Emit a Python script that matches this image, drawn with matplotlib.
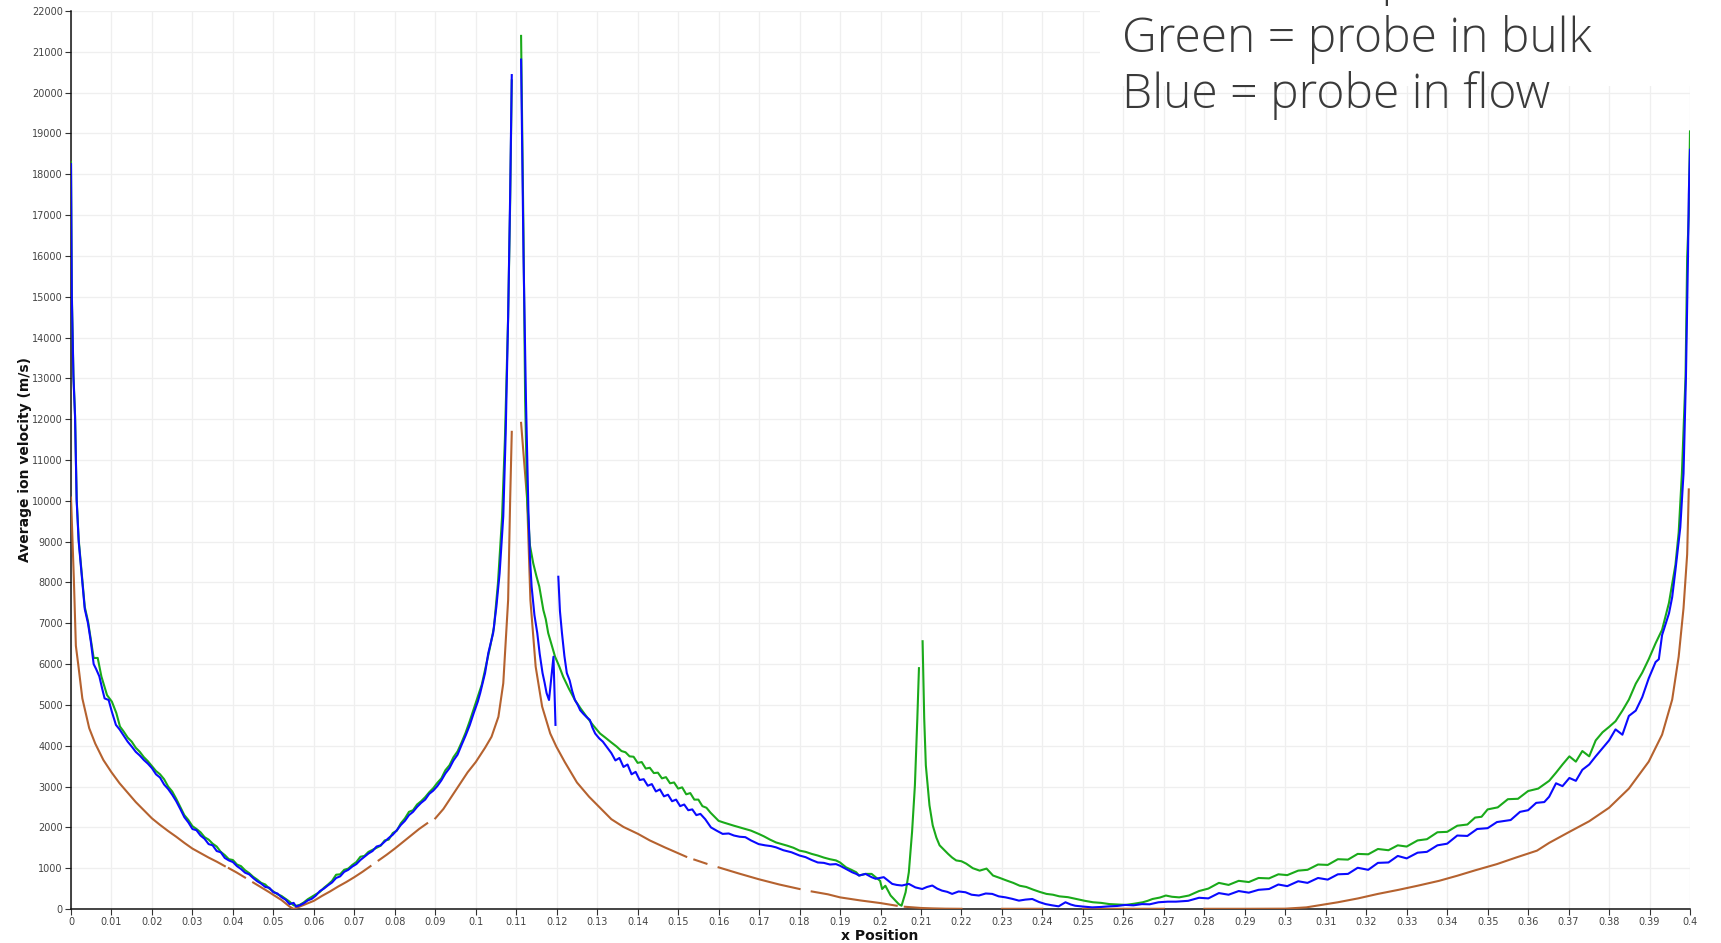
import numpy as np
import matplotlib
matplotlib.use("Agg")
import matplotlib.pyplot as plt
from matplotlib.patches import Rectangle

nan = np.nan

# probe in flow (blue)
blue_x = [0.0000, 0.0002, 0.0006, 0.0010, 0.0014, 0.0019, 0.0028, 0.0034, 0.0042, 0.0049,
          0.0056, 0.0062, 0.0070, 0.0077, 0.0083, 0.0093, 0.0101, 0.0111, 0.0120, 0.0130,
          0.0140, 0.0150, 0.0160, 0.0170, 0.0180, 0.0190, 0.0200, 0.0210, 0.0220, 0.0230,
          0.0240, 0.0250, 0.0260, 0.0270, 0.0280, 0.0290, 0.0300, 0.0310, 0.0320, 0.0330,
          0.0340, 0.0350, 0.0360, 0.0370, 0.0380, 0.0390, 0.0400, 0.0410, 0.0420, 0.0430,
          0.0440, 0.0450, 0.0460, 0.0470, 0.0480, 0.0490, 0.0500, 0.0510, 0.0520, 0.0530,
          0.0540, 0.0550, 0.0556, 0.0565, 0.0575, 0.0585, 0.0595, 0.0605, 0.0615, 0.0625,
          0.0635, 0.0645, 0.0655, 0.0665, 0.0675, 0.0685, 0.0695, 0.0705, 0.0715, 0.0725,
          0.0735, 0.0745, 0.0755, 0.0765, 0.0775, 0.0785, 0.0795, 0.0805, 0.0815, 0.0825,
          0.0835, 0.0845, 0.0855, 0.0865, 0.0875, 0.0885, 0.0895, 0.0905, 0.0915, 0.0925,
          0.0935, 0.0945, 0.0955, 0.0965, 0.0975, 0.0985, 0.0995, 0.1005, 0.1011, 0.1023,
          0.1031, 0.1043, 0.1051, 0.1059, 0.1068, 0.1074, 0.1080, 0.1085, 0.1089, 0.1100,
          0.1112, 0.1118, 0.1124, 0.1130, 0.1134, 0.1138, 0.1145, 0.1152, 0.1158, 0.1165,
          0.1170, 0.1175, 0.1181, 0.1187, 0.1192, 0.1197, 0.1200, 0.1204, 0.1208, 0.1213,
          0.1219, 0.1225, 0.1232, 0.1238, 0.1245, 0.1252, 0.1258, 0.1266, 0.1274, 0.1282,
          0.1288, 0.1295, 0.1305, 0.1314, 0.1323, 0.1335, 0.1345, 0.1355, 0.1365, 0.1375,
          0.1385, 0.1395, 0.1405, 0.1415, 0.1425, 0.1435, 0.1445, 0.1455, 0.1465, 0.1475,
          0.1485, 0.1495, 0.1505, 0.1515, 0.1525, 0.1535, 0.1545, 0.1555, 0.1567, 0.1581,
          0.1595, 0.1610, 0.1625, 0.1638, 0.1652, 0.1666, 0.1680, 0.1699, 0.1715, 0.1730,
          0.1742, 0.1760, 0.1780, 0.1800, 0.1815, 0.1830, 0.1845, 0.1860, 0.1875, 0.1890,
          0.1900, 0.1915, 0.1930, 0.1940, 0.1947, 0.1963, 0.1978, 0.1988, 0.2008, 0.2018,
          0.2029, 0.2040, 0.2053, 0.2070, 0.2086, 0.2103, 0.2115, 0.2128, 0.2140, 0.2152,
          0.2165, 0.2177, 0.2193, 0.2210, 0.2225, 0.2243, 0.2260, 0.2276, 0.2292, 0.2309,
          0.2325, 0.2342, 0.2358, 0.2375, 0.2392, 0.2408, 0.2424, 0.2440, 0.2457, 0.2470,
          0.2481, 0.2500, 0.2523, 0.2545, 0.2564, 0.2585, 0.2605, 0.2625, 0.2646, 0.2665,
          0.2687, 0.2710, 0.2730, 0.2760, 0.2787, 0.2810, 0.2836, 0.2860, 0.2885, 0.2910,
          0.2934, 0.2960, 0.2983, 0.3005, 0.3032, 0.3055, 0.3081, 0.3105, 0.3130, 0.3155,
          0.3179, 0.3205, 0.3229, 0.3255, 0.3278, 0.3300, 0.3327, 0.3350, 0.3376, 0.3400,
          0.3425, 0.3450, 0.3474, 0.3500, 0.3523, 0.3557, 0.3580, 0.3600, 0.3620, 0.3640,
          0.3652, 0.3669, 0.3685, 0.3702, 0.3718, 0.3734, 0.3751, 0.3767, 0.3784, 0.3800,
          0.3816, 0.3833, 0.3849, 0.3866, 0.3882, 0.3898, 0.3915, 0.3923, 0.3931, 0.3948,
          0.3956, 0.3964, 0.3976, 0.3984, 0.3990, 0.3995, 0.3997, 0.4000]
blue_v = [18250, 15000, 13040, 12060, 10000, 9000, 8000, 7350, 7000, 6550,
          6000, 5880, 5700, 5400, 5160, 5120, 4830, 4510, 4400, 4250,
          4100, 3980, 3850, 3760, 3650, 3560, 3450, 3300, 3220, 3050,
          2940, 2800, 2640, 2450, 2250, 2120, 1960, 1930, 1800, 1720,
          1590, 1560, 1420, 1390, 1250, 1190, 1150, 1050, 980, 890,
          850, 760, 680, 620, 540, 520, 410, 380, 290, 230,
          120, 150, 60, 90, 140, 210, 250, 330, 440, 500,
          580, 650, 760, 800, 910, 960, 1040, 1100, 1200, 1280,
          1360, 1420, 1530, 1560, 1650, 1740, 1820, 1930, 2060, 2160,
          2300, 2380, 2500, 2600, 2680, 2820, 2900, 3010, 3150, 3320,
          3450, 3640, 3780, 4020, 4250, 4500, 4800, 5080, 5290, 5780,
          6270, 6760, 7410, 8230, 9620, 11660, 14500, 17500, 20430, nan,
          20810, 16000, 12500, 9800, 8600, 7900, 7200, 6760, 6250, 5780,
          5550, 5290, 5120, 5700, 6180, 4510, nan, 8140, 7300, 6760,
          6200, 5780, 5600, 5350, 5120, 5000, 4870, 4780, 4700, 4630,
          4450, 4300, 4180, 4100, 3980, 3820, 3640, 3700, 3480, 3540,
          3300, 3360, 3160, 3180, 3020, 3060, 2880, 2930, 2760, 2800,
          2640, 2680, 2520, 2560, 2420, 2440, 2300, 2330, 2200, 2000,
          1920, 1840, 1850, 1800, 1770, 1760, 1680, 1590, 1560, 1540,
          1510, 1440, 1390, 1310, 1270, 1200, 1140, 1130, 1090, 1100,
          1060, 980, 900, 860, 820, 860, 780, 740, 780, 700,
          615, 590, 575, 615, 530, 490, 540, 575, 500, 450,
          420, 370, 430, 410, 350, 330, 380, 370, 310, 285,
          250, 205, 230, 245, 170, 120, 90, 65, 165, 110,
          80, 60, 40, 50, 65, 75, 100, 90, 120, 115,
          165, 180, 180, 200, 275, 260, 390, 350, 440, 400,
          470, 490, 600, 560, 680, 640, 760, 720, 850, 860,
          1010, 960, 1130, 1140, 1300, 1240, 1380, 1400, 1560, 1600,
          1800, 1790, 1960, 1980, 2130, 2180, 2380, 2420, 2600, 2620,
          2750, 3080, 3010, 3210, 3140, 3410, 3540, 3740, 3940, 4130,
          4400, 4270, 4730, 4860, 5190, 5650, 6050, 6120, 6710, 7240,
          7640, 8300, 9350, 10670, 13050, 15960, 17500, 18600]

# probe in bulk (green)
green_x = [0.0000, 0.0002, 0.0006, 0.0010, 0.0014, 0.0019, 0.0028, 0.0034, 0.0042, 0.0049,
           0.0056, 0.0066, 0.0075, 0.0089, 0.0101, 0.0112, 0.0121, 0.0130, 0.0140, 0.0150,
           0.0160, 0.0170, 0.0180, 0.0190, 0.0200, 0.0210, 0.0220, 0.0230, 0.0240, 0.0250,
           0.0260, 0.0270, 0.0280, 0.0290, 0.0300, 0.0310, 0.0320, 0.0330, 0.0340, 0.0350,
           0.0360, 0.0370, 0.0380, 0.0390, 0.0400, 0.0410, 0.0420, 0.0430, 0.0440, 0.0450,
           0.0460, 0.0470, 0.0480, 0.0490, 0.0500, 0.0510, 0.0520, 0.0530, 0.0540, 0.0550,
           0.0556, 0.0565, 0.0575, 0.0585, 0.0595, 0.0605, 0.0615, 0.0625, 0.0635, 0.0645,
           0.0655, 0.0665, 0.0675, 0.0685, 0.0695, 0.0705, 0.0715, 0.0725, 0.0735, 0.0745,
           0.0755, 0.0765, 0.0775, 0.0785, 0.0795, 0.0805, 0.0815, 0.0825, 0.0835, 0.0845,
           0.0855, 0.0865, 0.0875, 0.0885, 0.0895, 0.0905, 0.0915, 0.0925, 0.0935, 0.0945,
           0.0955, 0.0965, 0.0975, 0.0985, 0.0995, 0.1005, 0.1015, 0.1025, 0.1035, 0.1045,
           0.1055, 0.1065, 0.1072, 0.1080, 0.1085, 0.1089, 0.1100, 0.1112, 0.1118, 0.1122,
           0.1127, 0.1134, 0.1142, 0.1150, 0.1157, 0.1167, 0.1173, 0.1179, 0.1188, 0.1196,
           0.1206, 0.1216, 0.1230, 0.1245, 0.1260, 0.1274, 0.1290, 0.1307, 0.1320, 0.1335,
           0.1348, 0.1360, 0.1370, 0.1380, 0.1390, 0.1400, 0.1410, 0.1420, 0.1430, 0.1440,
           0.1450, 0.1460, 0.1470, 0.1480, 0.1490, 0.1500, 0.1510, 0.1520, 0.1530, 0.1540,
           0.1550, 0.1560, 0.1570, 0.1580, 0.1590, 0.1600, 0.1612, 0.1625, 0.1638, 0.1652,
           0.1666, 0.1680, 0.1699, 0.1712, 0.1727, 0.1742, 0.1756, 0.1770, 0.1785, 0.1800,
           0.1815, 0.1830, 0.1845, 0.1860, 0.1875, 0.1890, 0.1900, 0.1915, 0.1928, 0.1940,
           0.1947, 0.1963, 0.1978, 0.1988, 0.1999, 0.2004, 0.2012, 0.2025, 0.2037, 0.2045,
           0.2052, 0.2062, 0.2070, 0.2078, 0.2085, 0.2091, 0.2095, 0.2100, 0.2104, 0.2108,
           0.2112, 0.2121, 0.2129, 0.2138, 0.2146, 0.2157, 0.2167, 0.2177, 0.2187, 0.2200,
           0.2212, 0.2228, 0.2245, 0.2262, 0.2278, 0.2295, 0.2311, 0.2328, 0.2344, 0.2360,
           0.2377, 0.2393, 0.2410, 0.2426, 0.2442, 0.2463, 0.2484, 0.2505, 0.2525, 0.2545,
           0.2566, 0.2586, 0.2606, 0.2627, 0.2648, 0.2660, 0.2672, 0.2690, 0.2705, 0.2720,
           0.2738, 0.2762, 0.2787, 0.2810, 0.2836, 0.2860, 0.2885, 0.2910, 0.2934, 0.2960,
           0.2983, 0.3005, 0.3032, 0.3055, 0.3081, 0.3105, 0.3130, 0.3155, 0.3179, 0.3205,
           0.3229, 0.3255, 0.3278, 0.3300, 0.3327, 0.3350, 0.3376, 0.3400, 0.3425, 0.3450,
           0.3469, 0.3485, 0.3500, 0.3525, 0.3550, 0.3575, 0.3600, 0.3625, 0.3652, 0.3669,
           0.3685, 0.3702, 0.3718, 0.3734, 0.3751, 0.3767, 0.3784, 0.3800, 0.3816, 0.3833,
           0.3849, 0.3866, 0.3882, 0.3898, 0.3915, 0.3931, 0.3948, 0.3964, 0.3972, 0.3980,
           0.3989, 0.3993, 0.3997, 0.4000]
green_v = [18300, 15100, 13100, 12100, 10050, 9050, 8050, 7400, 7050, 6600,
           6150, 6150, 5700, 5240, 5080, 4800, 4470, 4350, 4200, 4100,
           3950, 3850, 3720, 3620, 3500, 3380, 3300, 3180, 3000, 2880,
           2700, 2500, 2300, 2180, 2030, 1960, 1880, 1760, 1700, 1600,
           1530, 1400, 1320, 1220, 1200, 1090, 1050, 950, 880, 790,
           720, 640, 600, 500, 430, 360, 320, 250, 180, 90,
           80, 100, 160, 240, 300, 360, 420, 520, 600, 690,
           840, 850, 960, 990, 1080, 1150, 1280, 1300, 1400, 1450,
           1500, 1550, 1680, 1700, 1860, 1920, 2100, 2220, 2380, 2420,
           2560, 2640, 2740, 2860, 2960, 3090, 3200, 3400, 3520, 3720,
           3860, 4080, 4320, 4600, 4900, 5200, 5500, 5950, 6400, 6900,
           8000, 9600, 11500, 14500, 17300, 20300, nan, 21390, 16500, 12500,
           10020, 8900, 8470, 8150, 7900, 7325, 7100, 6760, 6450, 6180,
           5950, 5690, 5400, 5120, 4900, 4710, 4500, 4300, 4200, 4080,
           3980, 3870, 3840, 3740, 3730, 3580, 3600, 3440, 3460, 3330,
           3340, 3200, 3230, 3080, 3100, 2950, 2980, 2810, 2840, 2680,
           2680, 2520, 2480, 2360, 2260, 2160, 2120, 2080, 2040, 2000,
           1960, 1920, 1840, 1780, 1700, 1630, 1590, 1550, 1500, 1430,
           1400, 1350, 1310, 1260, 1220, 1190, 1140, 1020, 960, 900,
           820, 860, 860, 780, 690, 490, 570, 330, 205, 120,
           80, 410, 900, 1890, 3030, 4670, 5900, nan, 6560, 4670,
           3520, 2540, 2050, 1750, 1560, 1450, 1350, 1260, 1190, 1170,
           1110, 1000, 940, 990, 820, 760, 700, 640, 570, 540,
           475, 420, 370, 350, 310, 290, 245, 200, 165, 150,
           120, 110, 100, 130, 165, 200, 245, 280, 330, 300,
           285, 330, 440, 500, 640, 590, 690, 660, 760, 750,
           850, 830, 940, 960, 1090, 1080, 1220, 1210, 1350, 1340,
           1470, 1440, 1560, 1530, 1680, 1710, 1880, 1890, 2040, 2070,
           2240, 2260, 2440, 2490, 2690, 2700, 2890, 2950, 3140, 3340,
           3540, 3740, 3610, 3870, 3740, 4130, 4330, 4460, 4600, 4860,
           5130, 5520, 5790, 6120, 6510, 6840, 7500, 8430, 9220, 10670,
           13050, 15960, 17000, 19050]

# no probe (brown)
brown_x = [0.0000, 0.0007, 0.0012, 0.0018, 0.0028, 0.0045, 0.0060, 0.0080, 0.0100, 0.0120,
           0.0140, 0.0160, 0.0180, 0.0200, 0.0220, 0.0240, 0.0260, 0.0280, 0.0300, 0.0320,
           0.0340, 0.0360, 0.0380, 0.0385, 0.0390, 0.0410, 0.0430, 0.0445, 0.0450, 0.0470,
           0.0490, 0.0500, 0.0520, 0.0540, 0.0550, 0.0560, 0.0580, 0.0600, 0.0620, 0.0640,
           0.0660, 0.0680, 0.0700, 0.0720, 0.0740, 0.0750, 0.0760, 0.0780, 0.0800, 0.0820,
           0.0840, 0.0860, 0.0880, 0.0885, 0.0900, 0.0920, 0.0940, 0.0960, 0.0980, 0.1000,
           0.1023, 0.1039, 0.1056, 0.1068, 0.1080, 0.1085, 0.1089, 0.1100, 0.1112, 0.1127,
           0.1135, 0.1148, 0.1164, 0.1184, 0.1199, 0.1220, 0.1250, 0.1280, 0.1310, 0.1335,
           0.1365, 0.1401, 0.1430, 0.1467, 0.1495, 0.1520, 0.1525, 0.1540, 0.1570, 0.1580,
           0.1600, 0.1650, 0.1699, 0.1750, 0.1800, 0.1810, 0.1830, 0.1870, 0.1900, 0.1950,
           0.2000, 0.2040, 0.2045, 0.2060, 0.2100, 0.2129, 0.2160, 0.2200, 0.2250, 0.2300,
           0.2400, 0.2450, 0.2500, 0.2600, 0.2700, 0.2750, 0.2800, 0.2900, 0.3000, 0.3052,
           0.3090, 0.3130, 0.3180, 0.3229, 0.3280, 0.3327, 0.3380, 0.3425, 0.3470, 0.3523,
           0.3570, 0.3622, 0.3652, 0.3702, 0.3751, 0.3800, 0.3849, 0.3898, 0.3931, 0.3956,
           0.3972, 0.3984, 0.3993, 0.3997]
brown_v = [10080, 8100, 6450, 5980, 5160, 4430, 4050, 3650, 3350, 3080,
           2850, 2620, 2420, 2220, 2060, 1910, 1770, 1620, 1480, 1370,
           1260, 1160, 1050, nan, 1000, 890, 770, nan, 650, 530,
           410, 345, 220, 60, 0, 40, 120, 200, 320, 430,
           550, 660, 780, 910, 1050, nan, 1190, 1330, 1480, 1640,
           1800, 1960, 2100, nan, 2220, 2450, 2750, 3050, 3350, 3600,
           3950, 4220, 4710, 5530, 7570, 10020, 11690, nan, 11910, 10020,
           7570, 5940, 4960, 4300, 3980, 3600, 3100, 2750, 2450, 2200,
           2010, 1840, 1680, 1510, 1390, 1280, nan, 1210, 1110, nan,
           1020, 870, 730, 600, 490, nan, 430, 360, 285, 210,
           145, 80, nan, 55, 25, 15, 8, 5, nan, 5,
           5, nan, 5, 5, 5, nan, 5, 5, 8, 40,
           100, 165, 260, 370, 470, 570, 690, 815, 950, 1100,
           1260, 1430, 1620, 1890, 2150, 2480, 2950, 3610, 4270, 5130,
           6180, 7370, 8690, 10280]

x_ticks = [round(0.01 * i, 2) for i in range(41)]
y_ticks = list(range(0, 22001, 1000))

fig = plt.figure(figsize=(17.21, 9.43), dpi=100)
ax = fig.add_axes([71 / 1721, 1 - 909 / 943, 1619 / 1721, 898 / 943])

ax.plot(brown_x, brown_v, color='#b5622f', lw=1.5, zorder=3)
ax.plot(green_x, green_v, color='#1aaa1a', lw=1.5, zorder=4)
ax.plot(blue_x, blue_v, color='#0a0aff', lw=1.5, zorder=5)

ax.set_xlim(0, 0.4)
ax.set_ylim(0, 22000)
ax.set_xticks(x_ticks)
ax.set_xticklabels([f"{t:g}" for t in x_ticks])
ax.set_yticks(y_ticks)
ax.set_yticklabels([str(t) for t in y_ticks])
ax.grid(color='#efefef', lw=0.9)
ax.set_axisbelow(True)
for s in ['top', 'right']:
    ax.spines[s].set_visible(False)
for s in ['left', 'bottom']:
    ax.spines[s].set_color('#111111')
    ax.spines[s].set_linewidth(1.1)
ax.tick_params(direction='out', length=4, width=0.8, color='#333333',
               labelsize=7, labelcolor='#444444', pad=2)

fig.text(25 / 1721, 1 - 460 / 943, 'Average ion velocity (m/s)', rotation=90,
         ha='center', va='center', fontsize=10, fontweight='bold', color='#111111')
fig.text(880 / 1721, 1 - 936 / 943, 'x Position', ha='center', va='center',
         fontsize=10, fontweight='bold', color='#111111')

# white note box over the top right corner
fig.add_artist(Rectangle((1100 / 1721, 1 - 86 / 943), 621 / 1721, 86 / 943,
                         transform=fig.transFigure, facecolor='white',
                         edgecolor='none', zorder=1))
note = dict(family=['Open Sans', 'DejaVu Sans'], fontweight='light', fontsize=34.6,
            color='#3a3a3a', ha='left', va='baseline', zorder=2)
fig.text(1122 / 1721, 1 + 6 / 943, 'Brown = no probe', **note)
fig.text(1122 / 1721, 1 - 52 / 943, 'Green = probe in bulk', **note)
fig.text(1122 / 1721, 1 - 108 / 943, 'Blue = probe in flow', **note)

fig.savefig('out.png', dpi=100)
